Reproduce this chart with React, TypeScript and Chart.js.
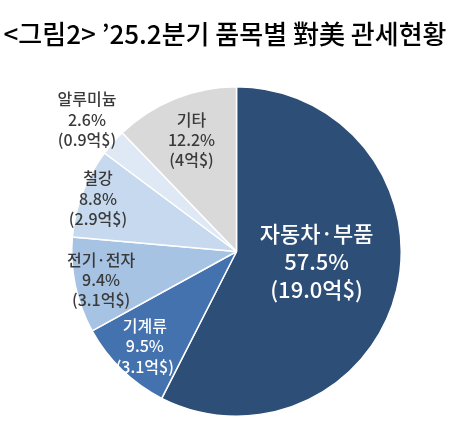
import React, { useEffect, useRef } from "react";
import { Chart, registerables } from "chart.js";

Chart.register(...registerables);

const titleText = "<그림2> ’25.2분기 품목별 對美 관세현황";
const categories = ["자동차·부품", "기계류", "전기·전자", "철강", "알루미늄", "기타"];
const shares = [57.5, 9.5, 9.4, 8.8, 2.6, 12.2];
const amounts = ["19.0", "3.1", "3.1", "2.9", "0.9", "4"];

const sliceColors = ["#2D4E77", "#4372AE", "#A6C3E4", "#C6D9EE", "#DFE9F5", "#D9D9D9"];
const labelColors = ["#FFFFFF", "#FFFFFF", "#3A3A3A", "#3A3A3A", "#3A3A3A", "#3A3A3A"];
const labelFrac = [0.5, 0.8, 0.84, 0.9, 1.21, 0.73];
const labelDy = [-9, 0, 0, 0, 0, 0];
const labelSize = [22, 16, 16, 16, 16, 16];
const FONT = "'Noto Sans CJK KR', 'Noto Sans', sans-serif";

const labelPlugin = {
  id: "sliceLabels",
  afterDatasetsDraw(chart: any) {
    const ctx = chart.ctx;
    const meta = chart.getDatasetMeta(0);
    meta.data.forEach((arc: any, i: number) => {
      const p = arc.getProps(["x", "y", "startAngle", "endAngle", "outerRadius"], true);
      const mid = (p.startAngle + p.endAngle) / 2;
      const r = p.outerRadius * labelFrac[i];
      const cx = p.x + Math.cos(mid) * r;
      const cy = p.y + Math.sin(mid) * r + labelDy[i];
      const size = labelSize[i];
      const lh = size * 1.27;
      const lines = [categories[i], `${shares[i]}%`, `(${amounts[i]}억$)`];
      ctx.save();
      ctx.fillStyle = labelColors[i];
      ctx.font = `500 ${size}px ${FONT}`;
      ctx.textAlign = "center";
      ctx.textBaseline = "middle";
      lines.forEach((t, k) => {
        ctx.fillText(t, cx, cy + (k - 1) * lh);
      });
      ctx.restore();
    });
  },
};

export default function App() {
  const ref = useRef<HTMLCanvasElement>(null);
  useEffect(() => {
    if (!ref.current) return;
    const chart = new Chart(ref.current, {
      type: "pie",
      data: {
        labels: categories,
        datasets: [
          {
            data: shares,
            backgroundColor: sliceColors,
            borderColor: "#FFFFFF",
            borderWidth: 1.5,
          },
        ],
      },
      options: {
        animation: false,
        responsive: false,
        layout: { padding: { left: 71, right: 56, top: 86, bottom: 27 } },
        plugins: {
          legend: { display: false },
          tooltip: { enabled: false },
          title: { display: false },
        },
      },
      plugins: [labelPlugin],
    });
    return () => chart.destroy();
  }, []);
  return (
    <div style={{ position: "absolute", left: 0, top: 0, width: 458, height: 444, background: "#fff" }}>
      <canvas ref={ref} width={458} height={444} style={{ position: "absolute", left: 0, top: 0 }} />
      <div
        style={{
          position: "absolute",
          left: 0,
          top: 14,
          width: 450,
          textAlign: "center",
          fontFamily: FONT,
          fontSize: 26,
          fontWeight: 500,
          color: "#000",
          lineHeight: "38px",
          whiteSpace: "nowrap",
        }}
      >
        {titleText}
      </div>
    </div>
  );
}
